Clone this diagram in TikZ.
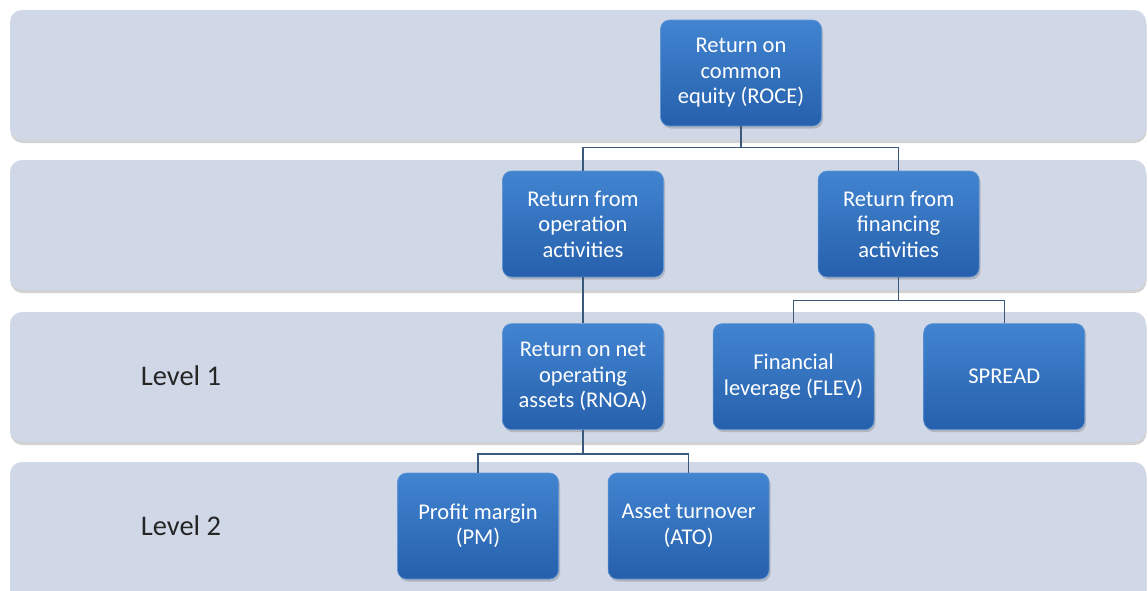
\documentclass[tikz,border=0pt]{standalone}
\usepackage{fontspec}
\setmainfont{Carlito}
\usetikzlibrary{positioning,shadows}
\definecolor{bandfill}{RGB}{208,216,232}
\definecolor{boxtop}{RGB}{66,132,208}
\definecolor{boxbot}{RGB}{38,96,172}
\definecolor{boxedge}{RGB}{96,150,215}
\definecolor{linkcol}{RGB}{58,88,122}
\definecolor{leveltext}{RGB}{38,38,38}

\begin{document}
\begin{tikzpicture}[x=1pt,y=-1pt,node distance=46pt and 49pt, every node/.style={font=\fontsize{22.5}{25.5}\selectfont}]
\tikzstyle{band}=[fill=bandfill,rounded corners=12pt,drop shadow={shadow xshift=0.5pt,shadow yshift=-3pt,opacity=0.35}]
\tikzstyle{box}=[rounded corners=9pt,draw=boxedge,line width=0.6pt,top color=boxtop,bottom color=boxbot,text=white,align=center,minimum width=161pt,minimum height=106pt,inner sep=2pt,drop shadow={shadow xshift=1.5pt,shadow yshift=-2.5pt,opacity=0.4}]
\tikzstyle{level}=[text=leveltext,font=\fontsize{28.5}{33}\selectfont]
\tikzstyle{link}=[draw=linkcol,line width=1.2pt]
\clip (0,0) rectangle (1148,590);
\fill[white] (0,0) rectangle (1148,590);
\path[band] (10,10) rectangle (1146,140);
\path[band] (10,160) rectangle (1146,290);
\path[band] (10,312) rectangle (1146,442);
\path[band] (10,462) rectangle (1146,605);
\node[box] (roce) at (741,73) {Return on\\common\\equity (ROCE)};
\node[box] (op) at (583,224) {Return from\\operation\\activities};
\node[box,right=154pt of op] (fin) {Return from\\financing\\activities};
\node[box,below=of op] (rnoa) {Return on net\\operating\\assets (RNOA)};
\node[box,right=of rnoa] (flev) {Financial\\leverage (FLEV)};
\node[box,right=of flev] (spread) {SPREAD};
\node[box] (pm) at (478,526) {Profit margin\\(PM)};
\node[box,right=of pm] (ato) {Asset turnover\\(ATO)};
\node[level] (lev1) at (181,376) {Level 1};
\node[level] (lev2) at (181,526) {Level 2};
\draw[link] (roce.south) -- +(0,21) -| (op.north);
\draw[link] (roce.south) -- +(0,21) -| (fin.north);
\draw[link] (op.south) -- (rnoa.north);
\draw[link] (fin.south) -- +(0,23) -| (flev.north);
\draw[link] (fin.south) -- +(0,23) -| (spread.north);
\draw[link] (rnoa.south) -- +(0,24) -| (pm.north);
\draw[link] (rnoa.south) -- +(0,24) -| (ato.north);
\end{tikzpicture}
\end{document}
